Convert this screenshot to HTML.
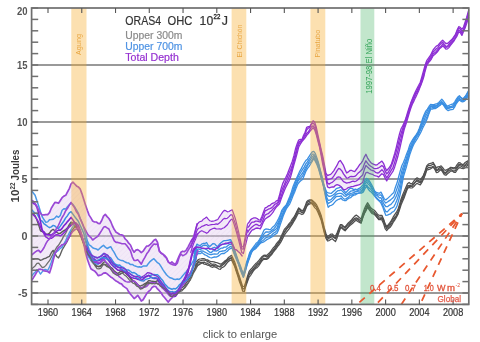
<!DOCTYPE html>
<html><head><meta charset="utf-8"><style>
html,body{margin:0;padding:0;background:#fff;width:480px;height:342px;overflow:hidden;}
svg{display:block;filter:blur(0.35px);font-family:"Liberation Sans",sans-serif;}
.cap{position:absolute;left:0;top:323px;width:480px;text-align:center;font-family:"Liberation Sans",sans-serif;font-size:11px;color:#555;}
</style></head><body>
<svg width="480" height="342" viewBox="0 0 480 342">
<line x1="31.6" y1="65.0" x2="468.8" y2="65.0" stroke="#777" stroke-width="1.3"/>
<line x1="31.6" y1="122.0" x2="468.8" y2="122.0" stroke="#777" stroke-width="1.3"/>
<line x1="31.6" y1="179.0" x2="468.8" y2="179.0" stroke="#777" stroke-width="1.3"/>
<line x1="31.6" y1="236.0" x2="468.8" y2="236.0" stroke="#777" stroke-width="1.3"/>
<line x1="31.6" y1="293.0" x2="468.8" y2="293.0" stroke="#777" stroke-width="1.3"/>
<defs><pattern id="hatch" width="3.5" height="3.5" patternUnits="userSpaceOnUse" patternTransform="rotate(45)"><rect width="4" height="4" fill="#e2cdee" fill-opacity="0.42"/><line x1="0" y1="0" x2="0" y2="4" stroke="#d4bfe6" stroke-opacity="0.35" stroke-width="0.8"/></pattern></defs>
<polygon points="31.5,200.5 36.0,204.2 38.2,210.0 41.9,214.5 45.5,213.7 48.5,215.2 52.1,207.2 55.0,202.0 58.7,203.5 61.6,197.7 65.3,195.5 68.2,191.0 71.9,182.3 74.8,183.8 77.0,186.0 79.2,186.7 82.0,194.7 85.0,204.2 88.8,215.0 92.5,221.6 96.3,222.5 100.0,223.5 104.7,214.0 108.5,217.8 112.2,225.3 116.9,233.8 122.5,234.7 125.0,239.3 130.0,244.4 133.8,251.9 137.6,249.4 141.4,252.5 146.4,246.9 150.2,244.4 155.2,238.0 157.7,241.8 159.0,250.6 162.7,254.4 166.5,258.2 169.0,263.2 172.8,262.0 175.3,265.7 179.0,255.7 181.6,251.3 185.4,251.0 190.6,242.5 193.5,238.0 197.4,223.7 202.5,220.7 206.6,216.6 210.7,221.7 217.8,219.7 224.0,209.4 228.0,212.5 232.0,209.4 235.2,218.6 239.3,235.0 242.7,250.0 242.7,256.0 239.3,252.0 235.0,250.0 231.0,242.0 225.7,244.0 219.9,245.5 214.0,250.6 208.2,247.7 202.3,249.1 196.5,247.0 192.7,250.0 186.9,278.9 181.3,286.4 175.7,293.9 171.9,297.6 168.2,302.3 164.4,297.6 158.8,290.0 155.0,285.0 151.3,288.3 147.5,292.0 144.7,297.6 141.9,301.4 138.1,295.8 134.4,299.5 130.6,293.9 126.9,288.3 121.3,284.5 117.0,282.0 112.7,278.6 108.1,273.9 103.4,272.7 98.7,277.4 95.2,271.6 90.5,269.0 86.0,255.0 82.5,237.5 78.8,228.0 75.0,230.0 71.3,232.8 65.6,243.2 62.0,245.0 58.2,247.5 54.4,255.0 51.9,266.4 49.4,272.7 46.9,271.4 43.0,270.0 39.3,269.0 35.5,274.0 31.5,281.0" fill="url(#hatch)" stroke="none"/>
<polygon points="242.7,250.0 247.5,223.4 251.8,218.3 256.2,217.5 260.6,220.5 265.0,207.3 269.4,205.8 273.8,202.9 278.2,200.0 281.8,186.0 287.7,173.0 292.1,163.0 296.3,146.0 299.5,138.4 301.6,140.5 304.7,133.2 306.8,126.8 310.0,125.8 312.6,120.5 314.7,122.6 316.3,127.9 318.4,137.4 320.5,146.0 322.8,156.7 326.4,175.7 331.6,174.2 336.0,167.0 339.6,159.6 343.3,165.5 347.0,173.4 350.7,170.5 354.4,172.0 358.0,167.5 362.4,161.7 366.0,154.4 370.0,162.6 376.3,165.8 382.6,160.5 386.8,171.0 391.0,164.7 395.3,151.0 398.4,138.2 401.0,128.7 403.7,123.4 406.8,115.0 410.0,104.4 413.8,95.0 417.5,87.5 420.3,82.8 423.2,72.5 426.0,61.3 430.7,55.6 433.3,50.0 438.3,45.0 442.5,40.0 446.7,45.0 451.7,40.0 455.0,35.0 459.2,25.0 462.5,30.8 465.8,20.0 468.7,10.0 468.7,17.0 465.8,26.0 462.0,36.0 459.2,31.0 455.0,40.0 451.7,44.0 446.7,49.0 442.5,46.0 438.0,51.0 433.3,56.0 426.0,67.0 423.2,80.0 417.5,93.0 410.0,110.0 406.8,121.0 404.0,130.0 401.0,143.0 397.4,158.4 393.2,171.0 386.8,180.5 382.6,173.0 378.4,177.4 370.0,173.0 365.3,172.0 363.0,182.5 357.0,185.5 351.2,187.0 344.0,189.9 338.0,184.0 333.7,187.0 327.8,188.4 323.0,166.0 320.0,150.0 317.4,139.5 315.3,131.0 313.2,127.9 311.0,130.0 306.8,135.3 302.6,140.5 298.4,147.0 296.0,158.0 290.0,179.0 284.0,192.0 279.6,203.0 275.2,208.8 269.4,216.0 265.0,219.0 260.6,228.5 256.2,227.8 251.8,230.7 247.5,236.5 242.7,256.0" fill="#e2cdee" fill-opacity="0.42" stroke="none"/>
<polyline points="194.7,263.8 196.3,261.6 197.9,260.0 199.5,259.0 201.1,258.8 202.7,258.5 204.3,258.7 205.9,259.5 207.5,259.9 209.1,260.9 210.7,261.5 212.3,261.5 213.9,261.8 215.5,262.4 217.1,262.7 218.7,263.4 220.3,264.1 221.9,263.5 223.5,262.3 225.1,260.7 226.7,259.8 228.3,257.5 229.9,256.6 231.5,255.3 233.1,258.5 234.7,262.0 236.3,266.9 237.9,272.3 239.5,276.7 241.1,281.7 242.7,286.7 244.3,286.4 245.9,281.6 247.5,276.1 249.1,271.5 250.7,269.4 252.3,267.7 253.9,265.6 255.5,263.8 257.1,262.5 258.7,260.8 260.3,258.6 261.9,256.7 263.5,255.4 265.1,255.1 266.7,255.5 268.3,253.9 269.9,252.4 271.5,250.4 273.1,248.0 274.7,246.5 276.3,243.9 277.9,241.9 279.5,240.2 281.1,236.4 282.7,233.1 284.3,229.4 285.9,227.7 287.5,225.9 289.1,223.7 290.7,221.8 292.3,219.2 293.9,217.2 295.5,214.2 297.1,211.0 298.7,207.9 300.3,209.3 301.9,210.7 303.5,209.9 305.1,206.2 306.7,201.8 308.3,200.3 309.9,199.9 311.5,199.8 313.1,201.1 314.7,202.5 316.3,204.3 317.9,207.6 319.5,210.9 321.1,215.1 322.7,221.4 324.3,228.0 325.9,233.4 327.5,236.9 329.1,235.4 330.7,234.2 332.3,234.0 333.9,235.6 335.5,236.0 337.1,232.8 338.7,228.6 340.3,224.7 341.9,224.6 343.5,226.2 345.1,227.0 346.7,224.9 348.3,222.9 349.9,221.5 351.5,220.0 353.1,217.9 354.7,216.1 356.3,215.1 357.9,216.3 359.5,217.8 361.1,218.9 362.7,213.7 364.3,209.1 365.9,205.6 367.5,202.7 369.1,205.1 370.7,207.8 372.3,209.1 373.9,210.0 375.5,211.5 377.1,213.7 378.7,215.1 380.3,215.4 381.9,215.3 383.5,218.9 385.1,223.9 386.7,226.4 388.3,224.6 389.9,222.7 391.5,220.4 393.1,217.2 394.7,214.6 396.3,212.5 397.9,209.6 399.5,204.4 401.1,198.9 402.7,194.8 404.3,191.1 405.9,187.3 407.5,183.7 409.1,182.5 410.7,183.7 412.3,183.3 413.9,181.0 415.5,179.1 417.1,177.8 418.7,178.8 420.3,179.5 421.9,177.7 423.5,175.3 425.1,170.9 426.7,165.9 428.3,164.2 429.9,163.6 431.5,163.2 433.1,162.4 434.7,165.0 436.3,167.8 437.9,166.9 439.5,166.7 441.1,165.8 442.7,167.6 444.3,169.9 445.9,170.3 447.5,169.2 449.1,168.5 450.7,167.3 452.3,167.5 453.9,167.9 455.5,167.3 457.1,164.6 458.7,162.7 460.3,162.9 461.9,164.4 463.5,164.3 465.1,162.5 466.7,161.5 468.3,160.5 468.7,160.2" fill="none" stroke="#505050" stroke-width="1.25" stroke-opacity="1.0" stroke-linejoin="round"/>
<polyline points="194.7,265.9 196.3,264.1 197.9,262.2 199.5,261.0 201.1,260.5 202.7,260.1 204.3,260.2 205.9,260.5 207.5,261.4 209.1,262.3 210.7,263.6 212.3,264.3 213.9,264.0 215.5,264.4 217.1,265.5 218.7,266.3 220.3,266.1 221.9,264.5 223.5,263.1 225.1,261.7 226.7,260.2 228.3,259.1 229.9,258.2 231.5,257.5 233.1,260.7 234.7,264.4 236.3,269.4 237.9,273.5 239.5,278.6 241.1,283.8 242.7,288.7 244.3,288.6 245.9,283.4 247.5,277.9 249.1,273.9 250.7,271.5 252.3,269.7 253.9,267.9 255.5,265.9 257.1,264.0 258.7,262.9 260.3,260.9 261.9,257.9 263.5,256.1 265.1,256.2 266.7,257.1 268.3,255.8 269.9,253.3 271.5,251.8 273.1,250.2 274.7,248.0 276.3,245.6 277.9,243.6 279.5,241.2 281.1,237.5 282.7,234.9 284.3,231.8 285.9,229.5 287.5,227.7 289.1,225.2 290.7,223.3 292.3,221.3 293.9,218.4 295.5,215.2 297.1,211.9 298.7,208.9 300.3,210.3 301.9,211.2 303.5,210.8 305.1,206.8 306.7,203.8 308.3,201.7 309.9,201.1 311.5,200.7 313.1,202.5 314.7,204.1 316.3,206.5 317.9,209.3 319.5,213.1 321.1,217.0 322.7,222.9 324.3,229.9 325.9,235.3 327.5,237.7 329.1,237.3 330.7,235.9 332.3,235.7 333.9,237.0 335.5,238.0 337.1,234.4 338.7,230.2 340.3,225.9 341.9,225.9 343.5,226.8 345.1,228.3 346.7,226.2 348.3,224.2 349.9,222.8 351.5,220.9 353.1,219.5 354.7,218.4 356.3,217.8 357.9,218.6 359.5,219.8 361.1,220.6 362.7,215.6 364.3,211.5 365.9,207.6 367.5,204.7 369.1,206.8 370.7,209.4 372.3,210.7 373.9,211.9 375.5,213.6 377.1,215.0 378.7,217.1 380.3,217.2 381.9,217.1 383.5,219.7 385.1,224.3 386.7,227.5 388.3,225.6 389.9,224.0 391.5,221.2 393.1,219.1 394.7,217.1 396.3,215.3 397.9,211.7 399.5,206.7 401.1,201.5 402.7,197.0 404.3,193.8 405.9,190.3 407.5,185.9 409.1,185.4 410.7,185.4 412.3,184.8 413.9,183.5 415.5,181.7 417.1,179.7 418.7,180.6 420.3,181.6 421.9,179.0 423.5,175.8 425.1,171.7 426.7,167.4 428.3,165.6 429.9,165.6 431.5,165.1 433.1,163.9 434.7,165.9 436.3,169.5 437.9,169.1 439.5,167.6 441.1,167.6 442.7,169.9 444.3,172.3 445.9,172.4 447.5,170.7 449.1,169.0 450.7,168.2 452.3,168.2 453.9,168.9 455.5,168.6 457.1,166.9 458.7,164.7 460.3,164.3 461.9,165.2 463.5,166.1 465.1,164.6 466.7,163.2 468.3,161.1 468.7,160.4" fill="none" stroke="#505050" stroke-width="1.25" stroke-opacity="1.0" stroke-linejoin="round"/>
<polyline points="194.7,267.3 196.3,265.1 197.9,262.7 199.5,262.9 201.1,262.3 202.7,262.3 204.3,262.1 205.9,263.2 207.5,263.2 209.1,264.6 210.7,265.3 212.3,265.2 213.9,265.4 215.5,265.8 217.1,266.1 218.7,266.5 220.3,267.1 221.9,265.8 223.5,264.4 225.1,263.1 226.7,261.4 228.3,260.1 229.9,258.8 231.5,258.0 233.1,262.0 234.7,265.5 236.3,270.4 237.9,274.9 239.5,279.7 241.1,284.2 242.7,289.0 244.3,288.7 245.9,284.5 247.5,279.7 249.1,274.9 250.7,272.9 252.3,271.3 253.9,268.6 255.5,267.4 257.1,265.6 258.7,264.0 260.3,262.3 261.9,259.6 263.5,258.2 265.1,258.6 266.7,259.2 268.3,257.1 269.9,255.5 271.5,253.5 273.1,251.4 274.7,249.2 276.3,247.0 277.9,244.5 279.5,242.4 281.1,238.9 282.7,236.1 284.3,232.7 285.9,230.4 287.5,228.0 289.1,226.6 290.7,224.8 292.3,222.6 293.9,219.9 295.5,216.7 297.1,213.5 298.7,210.7 300.3,211.5 301.9,212.7 303.5,212.2 305.1,209.2 306.7,205.9 308.3,203.7 309.9,202.6 311.5,202.7 313.1,203.6 314.7,205.4 316.3,206.8 317.9,210.1 319.5,214.2 321.1,218.3 322.7,224.6 324.3,231.6 325.9,236.7 327.5,239.5 329.1,238.2 330.7,237.3 332.3,236.7 333.9,237.5 335.5,238.7 337.1,235.4 338.7,231.5 340.3,227.3 341.9,227.4 343.5,228.9 345.1,230.3 346.7,228.6 348.3,226.3 349.9,224.1 351.5,222.8 353.1,220.8 354.7,219.8 356.3,218.9 357.9,219.5 359.5,221.3 361.1,222.5 362.7,217.5 364.3,213.3 365.9,209.7 367.5,206.0 369.1,208.3 370.7,210.4 372.3,212.1 373.9,213.3 375.5,214.9 377.1,216.8 378.7,219.1 380.3,218.7 381.9,218.4 383.5,221.3 385.1,225.8 386.7,228.6 388.3,227.2 389.9,225.5 391.5,223.5 393.1,220.9 394.7,218.6 396.3,216.5 397.9,213.7 399.5,208.2 401.1,202.3 402.7,198.9 404.3,195.3 405.9,191.4 407.5,187.5 409.1,186.6 410.7,186.4 412.3,186.4 413.9,184.2 415.5,182.0 417.1,180.7 418.7,182.2 420.3,182.8 421.9,180.8 423.5,178.3 425.1,173.9 426.7,168.9 428.3,167.7 429.9,167.5 431.5,167.2 433.1,166.3 434.7,168.3 436.3,170.9 437.9,170.1 439.5,169.1 441.1,168.8 442.7,170.7 444.3,173.1 445.9,173.4 447.5,171.8 449.1,170.5 450.7,169.7 452.3,170.2 453.9,171.3 455.5,170.4 457.1,168.1 458.7,165.7 460.3,165.8 461.9,166.7 463.5,167.6 465.1,165.7 466.7,164.8 468.3,163.6 468.7,162.4" fill="none" stroke="#505050" stroke-width="1.25" stroke-opacity="1.0" stroke-linejoin="round"/>
<polyline points="194.7,268.6 196.3,267.0 197.9,265.4 199.5,264.4 201.1,263.5 202.7,263.0 204.3,264.2 205.9,264.3 207.5,265.1 209.1,265.5 210.7,266.6 212.3,267.3 213.9,266.7 215.5,267.2 217.1,267.8 218.7,269.0 220.3,269.3 221.9,267.6 223.5,267.0 225.1,265.5 226.7,263.4 228.3,261.6 229.9,260.5 231.5,259.8 233.1,263.2 234.7,266.6 236.3,271.5 237.9,276.4 239.5,281.8 241.1,285.9 242.7,291.2 244.3,291.5 245.9,286.0 247.5,281.6 249.1,277.2 250.7,275.3 252.3,272.6 253.9,270.2 255.5,268.5 257.1,267.6 258.7,265.8 260.3,263.4 261.9,261.0 263.5,259.4 265.1,259.2 266.7,259.3 268.3,258.5 269.9,256.3 271.5,254.9 273.1,252.5 274.7,250.3 276.3,248.5 277.9,246.2 279.5,244.3 281.1,241.6 282.7,238.4 284.3,235.2 285.9,232.9 287.5,230.9 289.1,228.9 290.7,226.4 292.3,224.2 293.9,221.3 295.5,218.7 297.1,215.4 298.7,212.7 300.3,213.8 301.9,214.5 303.5,213.6 305.1,210.6 306.7,206.4 308.3,204.6 309.9,204.0 311.5,203.4 313.1,205.2 314.7,207.6 316.3,209.0 317.9,212.2 319.5,215.9 321.1,219.9 322.7,226.4 324.3,232.9 325.9,238.3 327.5,241.0 329.1,240.6 330.7,239.4 332.3,238.7 333.9,240.3 335.5,241.6 337.1,237.9 338.7,233.0 340.3,228.5 341.9,228.0 343.5,229.7 345.1,230.8 346.7,228.9 348.3,227.1 349.9,225.5 351.5,224.2 353.1,222.9 354.7,221.2 356.3,220.2 357.9,221.5 359.5,222.5 361.1,223.3 362.7,218.0 364.3,213.8 365.9,210.9 367.5,207.4 369.1,209.7 370.7,212.0 372.3,213.7 373.9,214.2 375.5,215.5 377.1,217.5 378.7,219.7 380.3,219.5 381.9,219.9 383.5,223.4 385.1,228.6 386.7,230.6 388.3,228.7 389.9,227.6 391.5,225.4 393.1,222.5 394.7,220.1 396.3,217.4 397.9,214.5 399.5,209.9 401.1,204.8 402.7,201.0 404.3,197.4 405.9,192.9 407.5,188.5 409.1,187.4 410.7,188.0 412.3,187.9 413.9,186.5 415.5,184.6 417.1,183.2 418.7,184.2 420.3,184.9 421.9,182.4 423.5,178.9 425.1,175.3 426.7,170.2 428.3,169.6 429.9,169.2 431.5,168.3 433.1,167.1 434.7,169.0 436.3,172.6 437.9,172.4 439.5,170.8 441.1,169.7 442.7,172.2 444.3,174.6 445.9,175.3 447.5,173.7 449.1,172.6 450.7,170.8 452.3,171.1 453.9,172.3 455.5,172.4 457.1,170.0 458.7,167.8 460.3,167.7 461.9,168.5 463.5,168.6 465.1,167.8 466.7,166.4 468.3,164.5 468.7,163.6" fill="none" stroke="#505050" stroke-width="1.25" stroke-opacity="1.0" stroke-linejoin="round"/>
<polyline points="31.5,259.0 33.3,259.2 35.1,258.9 36.9,258.6 38.7,259.2 40.5,260.3 42.3,259.7 44.1,258.6 45.9,258.2 47.7,257.2 49.5,256.4 51.3,252.7 53.1,250.4 54.9,253.7 56.7,256.5 58.5,257.9 60.3,254.6 62.1,250.0 63.9,247.0 65.7,244.0 67.5,240.8 69.3,236.9 71.1,232.0 72.9,229.4 74.7,226.8 76.5,225.8 78.3,229.6 80.1,233.9 81.9,239.2 83.7,244.5 85.5,248.4 87.3,252.4 89.1,255.7 90.9,260.3 92.7,262.5 94.5,264.2 96.3,266.2 98.1,266.7 99.9,266.3 101.7,265.3 103.5,264.0 105.3,265.1 107.1,266.7 108.9,267.4 110.7,268.5 112.5,270.9 114.3,272.4 116.1,273.0 117.9,275.0 119.7,274.1 121.5,273.3 123.3,272.4 125.1,271.5 126.9,273.2 128.7,275.5 130.5,277.7 132.3,280.7 134.1,281.6 135.9,284.0 137.7,284.9 139.5,286.4 141.3,288.1 143.1,287.1 144.9,285.4 146.7,283.4 148.5,282.7 150.3,282.7 152.1,283.5 153.9,282.8 155.7,282.7 157.5,283.8 159.3,284.2 161.1,285.8 162.9,287.7 164.7,289.3 166.5,290.3 168.3,292.0 170.1,294.0 171.9,295.9 173.7,294.7 175.5,294.4 177.3,293.7 179.1,291.7 180.9,290.0 182.7,289.5 184.5,287.7 186.3,284.9 188.1,283.0 189.9,280.2 191.7,277.1 193.5,272.8 195.3,269.8 197.1,266.5 198.0,264.4" fill="none" stroke="#606060" stroke-width="1.4" stroke-opacity="1.0" stroke-linejoin="round"/>
<polyline points="31.5,213.6 33.3,214.1 35.1,215.7 36.9,220.1 38.7,225.1 40.5,230.8 42.3,231.7 44.1,232.7 45.9,234.2 47.7,234.3 49.5,233.1 51.3,230.5 53.1,229.4 54.9,230.8 56.7,232.2 58.5,233.5 60.3,233.4 62.1,231.9 63.9,230.7 65.7,229.6 67.5,227.8 69.3,224.7 71.1,222.1 72.9,224.3 74.7,225.7 76.5,228.1 78.3,230.8 80.1,234.5 81.9,238.2 83.7,243.3 85.5,247.7 87.3,251.5 89.1,253.6 90.9,256.0 92.7,258.8 94.5,262.4 96.3,266.0 98.1,266.4 99.9,266.5 101.7,264.4 103.5,262.4 105.3,261.7 107.1,263.2 108.9,265.1 110.7,267.2 112.5,268.6 114.3,271.1 116.1,272.4 117.9,273.6 119.7,272.0 121.5,271.1 123.3,271.2 125.1,272.8 126.9,274.4 128.7,275.9 130.5,278.6 132.3,280.1 134.1,281.2 135.9,282.5 137.7,284.8 139.5,285.9 141.3,285.7 143.1,284.9 144.9,283.6 146.7,282.7 148.5,280.7 150.3,280.8 152.1,281.3 153.9,281.5 155.7,281.7 157.5,280.7 159.3,281.9 161.1,283.0 162.9,284.3 164.7,286.7 166.5,288.9 168.3,291.8 170.1,293.6 171.9,294.0 173.7,293.0 175.5,291.9 177.3,291.3 179.1,290.5 180.9,288.2 182.7,287.2 184.5,285.5 186.3,282.7 188.1,280.4 189.9,277.8 191.7,274.8 193.5,271.1 195.3,267.7 197.1,264.2 198.5,260.7" fill="none" stroke="#5a5a5a" stroke-width="1.4" stroke-opacity="1.0" stroke-linejoin="round"/>
<polyline points="31.5,269.3 33.3,267.4 35.1,265.9 36.9,263.4 38.7,263.1 40.5,265.4 42.3,267.7 44.1,267.1 45.9,265.4 47.7,262.9 49.5,260.7 51.3,257.3 53.1,253.8 54.9,250.3 56.7,247.3 58.5,245.3 60.3,242.4 62.1,239.4 63.9,235.8 65.7,233.1 67.5,229.4 69.3,226.5 71.1,222.7 72.9,222.4 74.7,226.2 75.0,227.2" fill="none" stroke="#707070" stroke-width="1.3" stroke-opacity="1.0" stroke-linejoin="round"/>
<polyline points="31.5,276.3 33.3,273.8 35.1,272.2 36.9,269.7 38.7,271.2 40.5,274.1 42.3,271.7 44.1,269.8 45.9,269.5 47.7,270.5 49.5,266.9 51.3,262.3 53.1,256.9 54.9,253.0 56.7,251.6 58.5,250.4 60.3,248.3 62.1,247.4 63.9,243.8 65.7,240.5 67.5,236.5 69.3,232.9 71.1,229.6 72.9,226.7 74.7,223.4 76.5,222.9 78.3,227.0 80.1,231.2 81.9,236.5 83.7,242.4 85.5,248.9 87.3,254.7 89.1,258.0 90.9,259.8 92.7,262.6 94.5,262.8 96.3,264.0 98.1,264.3 99.9,262.7 101.7,260.1 103.5,258.8 105.3,258.4 107.1,259.3 108.9,260.8 110.7,262.2 112.5,262.9 114.3,264.1 116.1,265.7 117.9,266.7 119.7,267.3 121.0,267.4" fill="none" stroke="#4f9be6" stroke-width="1.4" stroke-opacity="1.0" stroke-linejoin="round"/>
<polyline points="31.5,209.6 33.3,211.5 35.1,213.2 36.9,213.6 38.7,216.8 40.5,220.2 42.3,221.3 44.1,223.9 45.9,225.0 47.7,226.5 49.5,227.7 51.3,226.8 53.1,225.4 54.9,226.0 56.7,227.7 58.5,228.5 60.3,226.1 62.1,223.5 63.9,221.0 65.7,217.9 67.5,215.7 69.3,212.8 71.1,211.7 72.9,214.1 74.7,216.6 76.5,219.0 78.3,221.3 80.1,225.3 81.9,229.1 83.7,233.2 85.5,238.9 87.3,244.6 89.1,249.6 90.9,253.4 92.7,256.4 94.5,257.6 96.3,257.2 98.1,257.7 99.9,256.8 101.7,255.3 103.5,253.5 105.3,254.6 107.1,255.3 108.9,256.8 110.7,257.9 112.5,260.7 114.3,263.3 116.1,264.5 117.9,265.2 119.7,265.1 121.5,266.7 123.3,267.4 125.1,268.9 126.9,270.1 128.7,270.1 130.5,271.5 132.3,272.8 134.1,272.6 135.9,273.6 137.7,275.3 139.5,275.8 141.3,277.7 143.1,277.6 144.9,277.4 146.7,275.9 148.5,275.4 150.3,275.5 152.1,274.8 153.9,274.6 155.7,274.8 157.5,274.8 159.3,276.5 161.1,278.7 162.9,280.8 164.7,284.1 166.5,285.8 168.3,287.7 170.1,288.5 171.9,289.3 173.7,288.6 175.5,288.9 177.3,287.6 179.1,285.2 180.9,283.7 182.7,281.3 184.5,279.2 186.3,277.7 188.1,274.8 189.9,273.8 191.7,270.1 193.5,263.8 195.3,258.4 196.5,253.8" fill="none" stroke="#3b8fe2" stroke-width="1.5" stroke-opacity="1.0" stroke-linejoin="round"/>
<polyline points="31.5,190.7 33.3,193.0 35.1,195.2 36.9,200.7 38.7,206.0 40.5,211.7 42.3,216.9 44.1,219.8 45.9,222.4 47.7,221.9 49.5,219.7 51.3,219.6 53.1,219.3 54.9,218.0 56.7,216.1 58.5,217.3 60.3,215.4 62.1,210.3 63.9,208.7 65.7,209.1 67.5,206.7 69.3,204.7 71.1,203.1 72.9,204.3 74.7,207.0 76.5,209.8 78.3,213.1 80.1,217.9 81.9,222.5 83.7,227.6 85.5,233.6 87.3,240.9 89.1,244.9 90.9,245.9 92.7,247.8 94.5,248.6 96.3,248.9 98.1,250.0 99.9,248.2 101.7,246.6 103.5,245.3 105.3,247.1 107.1,248.5 108.9,247.5 110.7,246.7 112.5,249.8 114.3,252.7 116.1,256.1 117.9,258.9 119.7,259.9 121.5,260.6 123.3,260.8 125.1,262.0 126.9,262.8 128.7,263.1 130.5,264.6 132.3,264.4 134.1,265.6 135.9,266.3 137.7,266.9 139.5,266.8 141.3,267.2 143.1,266.1 144.9,266.1 146.7,266.0 148.5,263.4 150.3,261.3 152.1,259.9 153.9,258.7 155.7,260.7 157.5,262.7 159.3,263.8 161.1,266.7 162.9,269.6 164.7,272.3 166.5,274.8 168.3,276.5 170.1,277.8 171.9,278.2 173.7,279.3 175.5,279.5 177.3,279.1 179.1,279.4 180.9,278.0 182.7,275.8 184.5,273.6 186.3,271.8 188.1,269.2 189.9,266.2 191.7,263.7 193.5,260.7 195.3,255.7 197.0,245.5" fill="none" stroke="#4a98e6" stroke-width="1.5" stroke-opacity="1.0" stroke-linejoin="round"/>
<polyline points="193.8,253.7 195.4,248.0 197.0,244.1 198.6,245.2 200.2,245.6 201.8,244.0 203.4,243.3 205.0,243.5 206.6,242.5 208.2,245.3 209.8,246.5 211.4,245.0 213.0,243.6 214.6,243.8 216.2,245.6 217.8,246.6 219.4,244.2 221.0,242.7 222.6,241.4 224.2,240.6 225.8,240.7 227.4,240.3 229.0,240.0 230.6,239.6 232.2,242.5 233.8,247.0 235.4,252.2 237.0,256.9 238.6,261.4 240.2,265.3 241.8,269.8 243.4,274.0 245.0,268.3 246.6,262.1 248.2,257.5 249.8,252.3 251.4,249.9 253.0,247.6 254.6,245.5 256.2,243.2 257.8,242.0 259.4,239.5 261.0,236.7 262.6,233.2 264.2,229.8 265.8,229.0 267.4,229.2 269.0,229.5 270.6,229.6 272.2,227.6 273.8,226.3 275.4,224.3 277.0,221.6 278.6,218.6 280.2,215.1 281.8,210.3 283.4,208.0 285.0,206.2 286.6,204.3 288.2,200.2 289.8,196.4 291.4,191.9 293.0,186.8 294.6,182.7 296.2,179.1 297.8,175.4 299.4,171.9 301.0,169.1 302.6,166.0 304.2,163.0 305.8,160.6 307.4,159.2 309.0,156.6 310.6,154.1 312.2,151.8 313.8,151.3 315.4,153.6 317.0,158.1 318.6,163.3 320.2,169.6 321.8,175.9 323.4,183.2 325.0,188.1 326.6,192.0 328.2,192.9 329.8,193.2 331.4,193.3 333.0,191.8 334.6,190.6 336.2,188.7 337.8,188.2 339.4,187.7 341.0,186.7 342.6,189.4 344.2,190.9 345.8,192.7 347.4,191.0 349.0,189.3 350.6,188.1 352.2,188.6 353.8,189.6 355.4,189.2 357.0,189.7 358.6,188.6 360.2,187.9 361.8,186.2 363.4,184.3 365.0,179.7 366.6,178.4 368.2,179.5 369.8,181.7 371.4,184.4 373.0,187.3 374.6,191.0 376.2,192.3 377.8,192.8 379.4,193.3 381.0,192.1 382.6,195.3 384.2,198.7 385.8,199.9 387.4,198.6 389.0,197.1 390.6,195.6 392.2,193.9 393.8,192.6 395.4,187.2 397.0,183.1 398.6,177.0 400.2,171.2 401.8,165.7 403.4,162.5 405.0,158.4 406.6,154.0 408.2,150.0 409.8,144.9 411.4,141.9 413.0,139.2 414.6,136.8 416.2,134.6 417.8,132.1 419.4,128.2 421.0,123.8 422.6,118.6 424.2,114.5 425.8,111.1 427.4,109.2 429.0,106.5 430.6,104.4 432.2,104.6 433.8,104.6 435.4,104.1 437.0,103.6 438.6,102.8 440.2,101.0 441.8,99.3 443.4,101.0 445.0,103.4 446.6,105.7 448.2,105.9 449.8,105.0 451.4,104.4 453.0,104.0 454.6,102.1 456.2,99.4 457.8,97.0 459.4,95.8 461.0,97.6 462.6,98.7 464.2,97.5 465.8,95.8 467.4,92.7 468.7,90.7" fill="none" stroke="#3b8fe2" stroke-width="1.3" stroke-opacity="1.0" stroke-linejoin="round"/>
<polyline points="193.8,256.6 195.4,251.0 197.0,247.3 198.6,247.3 200.2,247.1 201.8,246.4 203.4,245.3 205.0,245.2 206.6,245.4 208.2,247.0 209.8,249.1 211.4,248.8 213.0,247.9 214.6,247.3 216.2,248.2 217.8,248.5 219.4,246.3 221.0,245.0 222.6,244.3 224.2,244.2 225.8,244.1 227.4,243.0 229.0,242.3 230.6,241.8 232.2,243.6 233.8,248.0 235.4,253.1 237.0,258.1 238.6,262.5 240.2,266.7 241.8,271.1 243.4,275.3 245.0,269.9 246.6,263.7 248.2,258.4 249.8,254.1 251.4,250.1 253.0,248.4 254.6,247.2 256.2,245.4 257.8,243.3 259.4,240.9 261.0,238.7 262.6,236.0 264.2,233.6 265.8,232.0 267.4,232.0 269.0,232.2 270.6,231.2 272.2,230.1 273.8,228.9 275.4,227.0 277.0,224.4 278.6,221.6 280.2,216.7 281.8,212.8 283.4,209.2 285.0,207.1 286.6,205.2 288.2,201.9 289.8,198.0 291.4,194.3 293.0,189.8 294.6,185.3 296.2,181.1 297.8,177.4 299.4,174.5 301.0,172.0 302.6,169.4 304.2,167.1 305.8,163.9 307.4,161.9 309.0,159.4 310.6,157.4 312.2,154.2 313.8,154.1 315.4,156.1 317.0,159.8 318.6,164.2 320.2,170.5 321.8,176.3 323.4,183.1 325.0,189.0 326.6,194.0 328.2,196.0 329.8,196.3 331.4,195.9 333.0,195.0 334.6,193.9 336.2,192.0 337.8,190.7 339.4,190.7 341.0,189.9 342.6,191.4 344.2,193.0 345.8,194.7 347.4,193.8 349.0,192.6 350.6,191.2 352.2,190.8 353.8,190.5 355.4,191.3 357.0,191.0 358.6,190.2 360.2,189.5 361.8,188.7 363.4,186.5 365.0,181.9 366.6,180.3 368.2,181.5 369.8,183.8 371.4,186.4 373.0,189.8 374.6,192.2 376.2,193.6 377.8,194.6 379.4,195.2 381.0,194.8 382.6,197.4 384.2,201.4 385.8,203.0 387.4,202.0 389.0,200.9 390.6,199.9 392.2,198.4 393.8,197.0 395.4,193.0 397.0,188.5 398.6,183.7 400.2,178.0 401.8,170.9 403.4,166.2 405.0,162.1 406.6,157.6 408.2,152.1 409.8,147.9 411.4,144.5 413.0,140.5 414.6,137.2 416.2,135.6 417.8,133.3 419.4,129.5 421.0,125.2 422.6,120.7 424.2,116.4 425.8,113.5 427.4,110.7 429.0,107.8 430.6,105.9 432.2,106.0 433.8,105.3 435.4,105.8 437.0,105.2 438.6,104.0 440.2,102.6 441.8,101.6 443.4,103.2 445.0,105.1 446.6,106.2 448.2,107.2 449.8,106.7 451.4,106.4 453.0,105.6 454.6,103.8 456.2,101.2 457.8,98.4 459.4,97.0 461.0,97.7 462.6,98.9 464.2,98.0 465.8,95.9 467.4,93.3 468.7,91.7" fill="none" stroke="#3b8fe2" stroke-width="1.3" stroke-opacity="1.0" stroke-linejoin="round"/>
<polyline points="193.8,258.0 195.4,252.8 197.0,249.6 198.6,248.9 200.2,249.6 201.8,248.6 203.4,248.5 205.0,249.0 206.6,249.6 208.2,250.9 209.8,252.3 211.4,252.5 213.0,250.8 214.6,250.7 216.2,251.1 217.8,250.4 219.4,249.2 221.0,248.2 222.6,248.1 224.2,247.1 225.8,247.2 227.4,245.9 229.0,244.7 230.6,244.1 232.2,244.9 233.8,249.9 235.4,254.6 237.0,258.7 238.6,263.4 240.2,267.3 241.8,271.5 243.4,275.8 245.0,270.8 246.6,264.3 248.2,259.5 249.8,254.9 251.4,251.3 253.0,249.8 254.6,247.8 256.2,246.4 257.8,244.2 259.4,242.4 261.0,240.2 262.6,238.2 264.2,236.8 265.8,235.4 267.4,235.1 269.0,234.0 270.6,233.1 272.2,231.7 273.8,230.6 275.4,229.6 277.0,227.9 278.6,223.6 280.2,219.7 281.8,215.8 283.4,212.0 285.0,208.1 286.6,205.5 288.2,202.2 289.8,199.2 291.4,196.2 293.0,192.1 294.6,187.7 296.2,183.7 297.8,180.0 299.4,177.2 301.0,175.2 302.6,173.0 304.2,170.0 305.8,167.0 307.4,164.5 309.0,161.7 310.6,159.7 312.2,156.9 313.8,155.6 315.4,157.5 317.0,161.4 318.6,165.4 320.2,172.0 321.8,178.4 323.4,184.8 325.0,190.9 326.6,196.9 328.2,200.4 329.8,200.2 331.4,199.2 333.0,197.5 334.6,196.0 336.2,194.3 337.8,193.6 339.4,193.4 341.0,193.3 342.6,194.1 344.2,195.9 345.8,196.3 347.4,194.9 349.0,194.4 350.6,193.3 352.2,193.2 353.8,192.7 355.4,191.8 357.0,191.7 358.6,191.2 360.2,191.0 361.8,190.6 363.4,188.5 365.0,184.2 366.6,182.0 368.2,184.1 369.8,185.6 371.4,188.0 373.0,190.2 374.6,192.7 376.2,195.0 377.8,196.1 379.4,197.9 381.0,197.7 382.6,201.5 384.2,204.5 385.8,206.5 387.4,206.7 389.0,205.4 390.6,204.7 392.2,202.9 393.8,201.0 395.4,198.0 397.0,194.6 398.6,189.5 400.2,183.4 401.8,175.6 403.4,169.6 405.0,164.9 406.6,159.9 408.2,155.5 409.8,150.0 411.4,146.8 413.0,143.2 414.6,139.1 416.2,136.1 417.8,134.2 419.4,131.5 421.0,127.3 422.6,123.3 424.2,119.9 425.8,115.8 427.4,113.3 429.0,110.1 430.6,106.4 432.2,106.2 433.8,106.5 435.4,106.4 437.0,106.0 438.6,104.2 440.2,103.4 441.8,101.9 443.4,103.7 445.0,105.6 446.6,107.2 448.2,107.8 449.8,107.7 451.4,107.7 453.0,107.2 454.6,104.8 456.2,101.9 457.8,99.0 459.4,98.6 461.0,99.6 462.6,100.7 464.2,99.7 465.8,97.4 467.4,95.6 468.7,93.7" fill="none" stroke="#3b8fe2" stroke-width="1.3" stroke-opacity="1.0" stroke-linejoin="round"/>
<polyline points="193.8,260.1 195.4,254.9 197.0,251.4 198.6,251.9 200.2,251.4 201.8,251.0 203.4,251.2 205.0,252.2 206.6,253.0 208.2,253.8 209.8,254.5 211.4,254.7 213.0,254.1 214.6,254.0 216.2,254.1 217.8,253.9 219.4,251.7 221.0,251.3 222.6,251.0 224.2,250.8 225.8,250.1 227.4,248.3 229.0,247.5 230.6,246.3 232.2,247.4 233.8,252.0 235.4,255.9 237.0,259.7 238.6,264.1 240.2,268.7 241.8,272.4 243.4,276.9 245.0,272.0 246.6,265.5 248.2,260.8 249.8,256.5 251.4,252.3 253.0,249.8 254.6,248.2 256.2,247.1 257.8,245.7 259.4,243.8 261.0,241.6 262.6,240.7 264.2,239.4 265.8,237.8 267.4,237.2 269.0,236.8 270.6,236.1 272.2,234.5 273.8,233.0 275.4,232.1 277.0,230.4 278.6,226.4 280.2,221.6 281.8,217.6 283.4,213.6 285.0,210.0 286.6,207.0 288.2,204.3 289.8,201.1 291.4,197.1 293.0,194.2 294.6,189.7 296.2,185.0 297.8,181.3 299.4,179.6 301.0,177.6 302.6,176.0 304.2,172.4 305.8,169.2 307.4,165.9 309.0,163.5 310.6,162.3 312.2,159.9 313.8,157.2 315.4,159.8 317.0,163.3 318.6,167.9 320.2,173.3 321.8,179.4 323.4,185.7 325.0,193.0 326.6,199.9 328.2,203.6 329.8,202.5 331.4,201.6 333.0,200.1 334.6,198.3 336.2,196.5 337.8,196.3 339.4,196.4 341.0,195.8 342.6,197.6 344.2,199.1 345.8,198.9 347.4,197.9 349.0,196.5 350.6,194.9 352.2,195.0 353.8,194.0 355.4,193.6 357.0,193.3 358.6,193.2 360.2,192.5 361.8,191.5 363.4,190.0 365.0,185.8 366.6,185.0 368.2,187.2 369.8,188.4 371.4,190.1 373.0,192.3 374.6,194.7 376.2,197.1 377.8,199.0 379.4,200.4 381.0,200.6 382.6,204.5 384.2,208.3 385.8,211.5 387.4,211.8 389.0,209.9 390.6,208.5 392.2,207.9 393.8,207.0 395.4,203.8 397.0,200.1 398.6,194.9 400.2,188.7 401.8,180.3 403.4,172.9 405.0,167.3 406.6,162.0 408.2,157.2 409.8,151.8 411.4,147.8 413.0,143.7 414.6,140.7 416.2,137.6 417.8,135.6 419.4,132.3 421.0,128.7 422.6,126.1 424.2,122.3 425.8,119.2 427.4,115.9 429.0,112.4 430.6,108.0 432.2,107.7 433.8,107.1 435.4,107.8 437.0,107.4 438.6,106.0 440.2,104.5 441.8,102.9 443.4,104.9 445.0,106.5 446.6,108.3 448.2,108.6 449.8,107.9 451.4,107.2 453.0,107.4 454.6,105.4 456.2,102.5 457.8,100.7 459.4,99.2 461.0,100.0 462.6,100.6 464.2,100.0 465.8,98.4 467.4,95.8 468.7,93.5" fill="none" stroke="#3b8fe2" stroke-width="1.3" stroke-opacity="1.0" stroke-linejoin="round"/>
<polyline points="193.8,262.0 195.4,257.2 197.0,254.5 198.6,253.4 200.2,253.7 201.8,252.6 203.4,253.8 205.0,254.9 206.6,255.5 208.2,256.6 209.8,257.5 211.4,258.0 213.0,257.4 214.6,257.0 216.2,257.1 217.8,256.4 219.4,255.4 221.0,253.9 222.6,253.3 224.2,253.5 225.8,252.3 227.4,251.2 229.0,249.4 230.6,248.5 232.2,248.2 233.8,253.0 235.4,257.0 237.0,260.8 238.6,264.6 240.2,269.5 241.8,273.7 243.4,277.4 245.0,272.2 246.6,266.8 248.2,261.6 249.8,257.4 251.4,252.7 253.0,250.3 254.6,249.4 256.2,248.2 257.8,246.2 259.4,244.4 261.0,242.9 262.6,242.4 264.2,241.6 265.8,240.4 267.4,239.3 269.0,238.5 270.6,237.6 272.2,236.7 273.8,235.3 275.4,234.2 277.0,233.1 278.6,229.8 280.2,224.7 281.8,220.3 283.4,215.4 285.0,211.7 286.6,208.3 288.2,206.1 289.8,203.8 291.4,200.0 293.0,195.7 294.6,192.3 296.2,187.9 297.8,184.0 299.4,182.0 301.0,180.5 302.6,179.5 304.2,175.6 305.8,171.5 307.4,168.6 309.0,166.7 310.6,164.0 312.2,161.5 313.8,158.4 315.4,161.4 317.0,164.7 318.6,169.1 320.2,174.8 321.8,180.3 323.4,186.0 325.0,194.0 326.6,201.6 328.2,207.4 329.8,205.7 331.4,205.3 333.0,204.4 334.6,202.4 336.2,200.6 337.8,199.7 339.4,199.2 341.0,198.1 342.6,200.0 344.2,200.5 345.8,200.7 347.4,199.3 349.0,198.2 350.6,197.7 352.2,196.1 353.8,195.1 355.4,194.9 357.0,193.8 358.6,193.0 360.2,193.2 361.8,193.0 363.4,191.9 365.0,188.5 366.6,186.4 368.2,189.0 369.8,191.1 371.4,192.3 373.0,194.0 374.6,196.2 376.2,198.2 377.8,199.7 379.4,201.2 381.0,203.2 382.6,206.6 384.2,210.9 385.8,215.4 387.4,215.1 389.0,214.4 390.6,213.8 392.2,212.1 393.8,211.5 395.4,209.2 397.0,206.0 398.6,200.6 400.2,194.3 401.8,185.7 403.4,176.9 405.0,171.5 406.6,166.2 408.2,160.3 409.8,154.6 411.4,150.1 413.0,146.0 414.6,142.8 416.2,140.3 417.8,137.8 419.4,134.9 421.0,132.0 422.6,128.2 424.2,125.3 425.8,122.0 427.4,118.2 429.0,113.4 430.6,109.2 432.2,109.0 433.8,108.6 435.4,108.6 437.0,107.4 438.6,106.3 440.2,105.2 441.8,103.4 443.4,104.8 445.0,107.5 446.6,109.5 448.2,110.6 449.8,109.9 451.4,109.6 453.0,109.3 454.6,107.2 456.2,103.8 457.8,101.6 459.4,100.1 461.0,101.3 462.6,101.8 464.2,101.4 465.8,99.7 467.4,97.3 468.7,94.9" fill="none" stroke="#3b8fe2" stroke-width="1.3" stroke-opacity="1.0" stroke-linejoin="round"/>
<polyline points="31.5,213.8 33.3,214.9 35.1,216.7 36.9,219.1 38.7,222.5 40.5,226.9 42.3,230.6 44.1,234.0 45.9,237.0 47.7,238.2 49.5,238.4 51.3,238.3 53.1,237.1 54.9,235.3 56.7,234.7 58.5,235.1 60.3,235.8 62.1,234.7 63.9,232.8 65.7,230.9 67.5,228.4 69.3,226.8 71.1,225.3 72.9,223.9 74.7,222.4 76.5,223.8 78.3,225.0 80.1,230.0 81.9,236.2 83.7,242.2 85.5,247.7 87.3,252.9 89.1,256.0 90.9,257.9 92.7,259.9 94.5,262.0 96.3,262.5 98.1,263.4 99.9,263.3 101.7,261.4 103.5,259.9 104.0,258.8" fill="none" stroke="#8a2ad4" stroke-width="1.5" stroke-opacity="1.0" stroke-linejoin="round"/>
<polyline points="31.5,201.8 33.3,203.2 35.1,204.3 36.9,207.0 38.7,213.5 40.5,221.6 42.3,230.6 44.1,231.9 45.9,234.4 47.7,234.8 49.5,234.9 51.3,235.1 53.1,233.7 54.9,233.0 56.7,231.1 58.5,230.1 60.3,230.1 62.1,228.4 63.9,225.8 65.7,223.9 67.5,221.6 69.3,219.6 71.1,217.4 72.9,219.9 74.7,222.7 76.5,225.8 78.3,229.6 80.1,233.3 81.9,237.8 83.7,242.2 85.5,247.2 87.3,251.3 89.1,255.2 90.9,256.7 92.7,258.7 94.5,259.1 96.3,261.1 98.1,260.7 99.9,260.0 101.7,258.8 103.5,256.7 105.3,255.9 107.1,258.1 108.9,260.7 110.7,263.5 112.5,265.5 114.3,267.2 116.1,268.6 117.9,270.2 119.7,270.1 121.5,269.8 123.3,270.9 125.1,272.1 126.9,273.4 128.7,275.4 130.5,277.1 132.3,277.7 134.1,278.2 135.9,278.5 137.7,279.2 139.5,279.8 141.3,280.2 143.1,279.1 144.9,277.1 146.7,276.6 148.5,275.4 150.3,276.6 152.1,277.6 153.9,278.5 155.7,278.3 157.5,279.0 159.3,282.4 161.1,284.1 162.9,286.4 164.7,289.7 166.5,291.7 168.3,294.1 170.1,296.0 171.9,296.1 173.7,296.6 175.5,296.2 177.3,293.7 179.1,290.8 180.9,287.3 182.7,284.0 184.5,280.6 186.3,275.9 188.1,272.1 189.9,264.4 191.7,256.5 193.5,250.5 195.3,248.2 196.5,246.7" fill="none" stroke="#7d22d2" stroke-width="1.6" stroke-opacity="1.0" stroke-linejoin="round"/>
<polyline points="88.1,252.6 89.9,255.0 91.7,257.8 93.5,260.5 95.3,261.4 97.1,262.4 98.9,262.6 100.7,262.0 102.5,260.1 104.3,259.5 106.1,262.5 107.9,264.3 109.7,266.8 111.5,269.6 113.3,271.6 115.1,273.0 116.9,274.1 118.7,276.3 120.5,277.6 122.3,279.0 124.1,280.5 125.9,281.6 127.7,282.1 129.5,282.0 131.3,281.4 133.1,281.1 134.9,281.4 136.7,283.4 138.5,285.7 140.3,288.1 142.1,287.7 143.9,286.8 145.7,287.0 147.5,285.6 149.3,283.5 151.1,282.4 152.9,283.0 154.7,282.7 156.5,283.2 158.3,283.5 160.1,285.2 161.9,287.6 163.7,289.2 165.5,291.0 167.3,292.3 169.1,294.4 170.9,296.0 172.7,295.3 174.5,295.4 176.0,295.1" fill="none" stroke="#9a48d6" stroke-width="1.5" stroke-opacity="1.0" stroke-linejoin="round"/>
<polyline points="188.0,270.7 189.8,262.7 191.6,254.7 193.4,248.9 195.2,247.3 197.0,247.3 198.8,247.3 200.6,247.7 202.4,248.3 204.2,248.4 206.0,248.6 207.8,248.1 209.6,248.9 211.4,248.9 213.2,249.4 215.0,249.8 216.8,247.9 218.6,246.8 220.4,245.2 222.2,244.4 224.0,243.9 225.8,243.2 227.6,243.5 229.4,242.8 231.2,242.3 233.0,245.9 234.8,249.4 236.6,250.0 238.4,251.8 240.2,253.3 242.0,255.9 242.7,256.2" fill="none" stroke="#8a2ad4" stroke-width="1.4" stroke-opacity="1.0" stroke-linejoin="round"/>
<polyline points="31.5,255.2 33.3,253.6 35.1,252.1 36.9,250.8 38.7,250.4 40.5,252.4 42.3,250.3 44.1,247.5 45.9,243.7 47.7,240.7 49.5,238.9 51.3,236.3 53.1,234.6 54.9,231.1 56.7,228.3 58.5,225.3 60.3,221.2 62.1,217.5 63.9,214.6 65.7,210.7 67.5,208.3 69.3,205.1 71.1,202.4 72.9,205.3 74.7,207.8 76.5,211.8 78.3,214.2 80.1,218.6 81.9,222.4 83.7,226.5 85.5,230.1 87.3,233.7 89.1,235.9 90.9,237.6 92.7,240.0 94.5,238.6 96.3,237.3 98.1,236.0 99.9,233.2 101.7,230.4 103.5,227.3 105.3,226.6 107.1,227.9 108.9,229.0 110.7,233.2 112.5,236.9 114.3,240.8 116.1,242.4 117.9,242.4 119.7,243.0 121.5,243.6 123.3,243.8 125.1,243.7 126.9,245.7 128.7,248.2 130.5,250.8 132.3,256.8 134.1,260.4 135.9,260.5 137.7,259.8 139.5,261.7 141.3,264.2 143.1,260.4 144.9,257.4 146.7,253.8 148.5,251.5 150.3,248.3 152.1,246.1 153.9,244.0 155.7,244.4 157.5,244.0 159.3,250.4 161.1,253.3 162.9,254.4 164.7,255.4 166.5,257.8 168.3,262.0 170.1,263.5 171.9,264.4 173.7,265.0 175.5,265.2 177.3,263.3 179.1,257.4 180.9,254.0 182.7,255.8 184.5,254.9 186.3,253.7 188.1,250.4 189.9,247.3 191.7,243.5 193.5,239.9 195.3,237.1 197.1,234.2 197.9,233.2" fill="none" stroke="#9a48d6" stroke-width="1.6" stroke-opacity="1.0" stroke-linejoin="round"/>
<polyline points="31.5,200.1 33.3,201.3 35.1,203.5 36.9,206.3 38.7,210.4 40.5,213.3 42.3,215.0 44.1,214.8 45.9,214.7 47.7,214.6 49.5,212.6 51.3,208.2 53.1,205.3 54.9,202.4 56.7,202.6 58.5,203.2 60.3,200.5 62.1,197.7 63.9,196.1 65.7,195.3 67.5,192.0 69.3,188.6 71.1,183.8 72.9,182.1 74.7,184.0 76.5,185.9 78.3,186.9 80.1,188.8 81.9,193.6 83.7,199.3 85.5,204.9 87.3,210.2 89.1,215.1 90.9,217.9 92.7,221.1 94.5,222.0 96.3,222.0 98.1,223.3 99.9,223.7 101.7,220.5 103.5,216.2 105.3,214.4 107.1,216.6 108.9,218.5 110.7,221.5 112.5,226.0 114.3,229.6 116.1,232.2 117.9,233.3 119.7,234.5 121.5,234.8 123.3,235.6 125.1,238.8 126.9,240.5 128.7,243.2 130.5,245.0 132.3,249.4 134.1,252.2 135.9,250.1 137.7,249.6 139.5,250.9 141.3,252.7 143.1,251.2 144.9,248.5 146.7,246.1 148.5,245.9 150.3,244.3 152.1,242.6 153.9,240.2 155.7,239.3 157.5,242.2 159.3,251.4 161.1,252.9 162.9,254.0 164.7,256.4 166.5,258.1 168.3,261.8 170.1,263.4 171.9,262.0 173.7,263.6 175.5,264.6 177.3,260.4 179.1,256.0 180.9,252.3 182.7,251.2 184.5,251.7 186.3,250.0 188.1,246.8 189.9,243.4 191.7,240.1 193.5,237.5 195.3,231.1 197.1,224.3 197.4,223.2" fill="none" stroke="#9a48d6" stroke-width="1.7" stroke-opacity="1.0" stroke-linejoin="round"/>
<polyline points="31.5,280.5 33.3,277.9 35.1,275.0 36.9,271.9 38.7,269.3 40.5,269.2 42.3,269.7 44.1,270.9 45.9,271.1 47.7,271.5 49.5,272.9 51.3,267.6 53.1,260.9 54.9,253.8 56.7,250.8 58.5,247.5 60.3,246.6 62.1,244.7 63.9,244.2 65.7,243.2 67.5,239.8 69.3,236.8 71.1,233.8 72.9,231.3 74.7,229.8 76.5,228.9 78.3,227.7 80.1,230.5 81.9,235.3 83.7,242.8 85.5,252.5 87.3,259.0 89.1,264.1 90.9,268.7 92.7,270.0 94.5,270.9 96.3,272.8 98.1,275.6 99.9,275.2 101.7,274.7 103.5,273.2 105.3,272.8 107.1,273.8 108.9,275.4 110.7,276.9 112.5,278.0 114.3,279.7 116.1,281.1 117.9,282.0 119.7,283.4 121.5,283.9 123.3,286.1 125.1,287.4 126.9,288.6 128.7,291.8 130.5,294.3 132.3,296.3 134.1,298.6 135.9,297.3 137.7,295.3 139.5,297.9 141.3,301.0 143.1,299.7 144.9,296.7 146.7,293.6 148.5,291.5 150.3,290.1 152.1,287.4 153.9,286.3 155.7,286.5 157.5,288.9 159.3,290.7 161.1,292.7 162.9,295.8 164.7,297.8 166.5,300.0 168.3,302.1 170.1,299.7 171.9,298.0 173.7,295.6 175.5,293.4 177.3,291.6 179.1,289.4 180.9,287.4 182.7,285.0 184.5,282.9 186.3,280.6 188.1,277.2 189.9,274.0 191.7,270.4 193.5,265.8 195.3,260.2 197.1,253.0 198.0,250.0" fill="none" stroke="#9a48d6" stroke-width="1.7" stroke-opacity="1.0" stroke-linejoin="round"/>
<polyline points="190.6,242.1 192.2,239.7 193.8,237.3 195.4,230.8 197.0,224.5 198.6,222.6 200.2,221.5 201.8,221.1 203.4,219.2 205.0,218.3 206.6,217.1 208.2,219.2 209.8,220.8 211.4,221.3 213.0,221.2 214.6,220.7 216.2,220.1 217.8,219.5 219.4,216.9 221.0,214.5 222.6,212.2 224.2,210.3 225.8,210.7 227.4,211.8 229.0,211.5 230.6,210.5 232.2,209.8 233.8,214.1 235.4,218.7 237.0,225.2 238.6,231.9 240.2,239.4 241.8,246.7 243.4,246.9 245.0,238.2 246.6,229.4 247.5,224.1" fill="none" stroke="#8d2fd4" stroke-width="1.2" stroke-opacity="1.0" stroke-linejoin="round"/>
<polyline points="190.6,248.0 192.2,243.6 193.8,240.1 195.4,235.5 197.0,230.4 198.6,228.2 200.2,227.7 201.8,226.4 203.4,225.9 205.0,225.1 206.6,224.5 208.2,225.5 209.8,225.0 211.4,224.6 213.0,224.5 214.6,224.4 216.2,223.9 217.8,224.3 219.4,223.0 221.0,221.6 222.6,219.8 224.2,218.4 225.8,218.7 227.4,218.2 229.0,216.6 230.6,214.9 232.2,214.9 233.8,219.5 235.4,223.7 237.0,230.4 238.6,236.1 240.2,242.1 241.8,249.0 243.4,249.2 245.0,241.7 246.6,234.2 247.5,229.6" fill="none" stroke="#8d2fd4" stroke-width="1.2" stroke-opacity="1.0" stroke-linejoin="round"/>
<polyline points="190.6,252.9 192.2,247.5 193.8,243.1 195.4,239.6 197.0,235.4 198.6,233.0 200.2,231.5 201.8,230.7 203.4,231.6 205.0,232.3 206.6,233.3 208.2,232.2 209.8,230.1 211.4,229.3 213.0,228.5 214.6,228.1 216.2,228.9 217.8,229.0 219.4,228.9 221.0,229.2 222.6,228.3 224.2,227.7 225.8,226.2 227.4,224.7 229.0,222.2 230.6,220.1 232.2,219.1 233.8,223.3 235.4,228.5 237.0,234.1 238.6,240.0 240.2,246.4 241.8,252.5 243.4,253.6 245.0,247.0 246.6,240.8 247.5,236.9" fill="none" stroke="#8d2fd4" stroke-width="1.2" stroke-opacity="1.0" stroke-linejoin="round"/>
<polyline points="247.5,223.9 249.1,222.2 250.7,219.6 252.3,218.5 253.9,217.9 255.5,217.9 257.1,218.5 258.7,219.8 260.3,220.1 261.9,216.4 263.5,212.0 265.1,207.9 266.7,207.3 268.3,205.9 269.9,205.5 271.5,203.9 273.1,203.2 274.7,202.6 276.3,200.9 277.9,200.5 279.5,195.3 281.1,188.6 282.7,183.6 284.3,180.2 285.9,177.2 287.5,173.7 289.1,169.5 290.7,165.4 292.3,161.3 293.9,155.7 295.5,148.8 297.1,144.0 298.7,140.0 300.3,139.3 301.9,139.7 303.5,135.5 305.1,132.2 306.7,127.3 308.3,126.6 309.9,126.4 311.5,123.5 313.1,120.8 314.7,122.3 316.3,127.3 317.9,134.9 319.5,142.2 321.1,149.3 322.7,155.9 324.3,164.1 325.9,173.2 327.5,175.7 329.1,174.9 330.7,174.4 332.3,172.6 333.9,170.6 335.5,167.8 337.1,165.2 338.7,161.8 340.3,160.4 341.9,162.9 343.5,165.4 345.1,169.6 346.7,173.0 348.3,171.9 349.9,170.5 351.5,170.3 353.1,171.2 354.7,171.6 356.3,169.5 357.9,167.4 359.5,164.8 361.1,163.1 362.7,160.8 364.3,157.1 365.9,154.2 367.5,157.8 369.1,160.4 370.7,162.4 372.3,163.7 373.9,164.3 375.5,165.0 377.1,164.9 378.7,163.4 380.3,162.3 381.9,161.1 383.5,163.3 385.1,167.6 386.7,170.6 388.3,168.8 389.9,166.7 391.5,163.7 393.1,158.6 394.7,153.4 396.3,147.3 397.9,140.3 399.5,133.9 401.1,128.7 402.7,125.9 404.3,122.6 405.9,118.1 407.5,112.8 409.1,107.7 410.7,103.1 412.3,99.0 413.9,95.1 415.5,91.5 417.1,88.4 418.7,85.4 420.3,82.2 421.9,76.6 423.5,70.8 425.1,65.3 426.7,60.6 428.3,58.4 429.9,56.2 431.5,53.4 433.1,50.0 434.7,47.9 436.3,46.1 437.9,45.4 439.5,43.5 441.1,41.6 442.7,40.3 444.3,41.9 445.9,43.5 447.5,43.4 449.1,42.0 450.7,40.5 452.3,39.1 453.9,36.7 455.5,34.4 457.1,30.1 458.7,26.7 460.3,27.3 461.9,29.4 463.5,27.0 465.1,22.1 466.7,17.4 468.3,11.5 468.7,10.4" fill="none" stroke="#8d2fd4" stroke-width="1.3" stroke-opacity="1.0" stroke-linejoin="round"/>
<polyline points="247.5,227.7 249.1,226.2 250.7,223.5 252.3,222.1 253.9,222.1 255.5,221.1 257.1,221.1 258.7,221.5 260.3,222.2 261.9,219.0 263.5,215.2 265.1,210.8 266.7,210.1 268.3,209.2 269.9,208.6 271.5,207.8 273.1,206.4 274.7,204.5 276.3,203.5 277.9,202.5 279.5,198.1 281.1,191.9 282.7,188.0 284.3,184.7 285.9,180.7 287.5,176.7 289.1,173.0 290.7,169.4 292.3,165.4 293.9,159.3 295.5,153.4 297.1,147.0 298.7,142.2 300.3,141.0 301.9,140.7 303.5,137.2 305.1,134.0 306.7,129.8 308.3,128.1 309.9,127.3 311.5,124.3 313.1,123.1 314.7,124.8 316.3,130.1 317.9,137.3 319.5,143.7 321.1,151.0 322.7,158.3 324.3,167.3 325.9,175.4 327.5,179.9 329.1,179.1 330.7,178.9 332.3,178.1 333.9,175.8 335.5,173.3 337.1,170.7 338.7,168.4 340.3,169.2 341.9,170.9 343.5,173.9 345.1,176.0 346.7,178.1 348.3,177.8 349.9,176.7 351.5,176.4 353.1,176.7 354.7,176.4 356.3,175.2 357.9,173.3 359.5,171.9 361.1,170.5 362.7,168.8 364.3,164.1 365.9,160.8 367.5,163.2 369.1,165.1 370.7,166.3 372.3,167.2 373.9,168.6 375.5,168.7 377.1,168.3 378.7,167.8 380.3,166.8 381.9,165.6 383.5,166.7 385.1,170.9 386.7,173.9 388.3,172.2 389.9,169.2 391.5,165.8 393.1,161.6 394.7,156.5 396.3,151.4 397.9,145.4 399.5,138.8 401.1,133.5 402.7,128.8 404.3,123.8 405.9,119.0 407.5,114.6 409.1,109.8 410.7,104.4 412.3,100.1 413.9,96.9 415.5,93.2 417.1,90.6 418.7,87.3 420.3,84.3 421.9,79.0 423.5,74.1 425.1,67.1 426.7,62.1 428.3,60.6 429.9,57.8 431.5,55.6 433.1,51.9 434.7,50.5 436.3,48.8 437.9,47.7 439.5,45.1 441.1,43.5 442.7,42.1 444.3,44.3 445.9,46.3 447.5,46.1 449.1,43.9 450.7,42.0 452.3,40.0 453.9,37.9 455.5,35.0 457.1,31.2 458.7,28.2 460.3,29.1 461.9,31.6 463.5,29.6 465.1,24.1 466.7,19.0 468.3,13.3 468.7,12.6" fill="none" stroke="#8d2fd4" stroke-width="1.3" stroke-opacity="1.0" stroke-linejoin="round"/>
<polyline points="247.5,232.6 249.1,230.0 250.7,228.3 252.3,226.8 253.9,225.5 255.5,224.5 257.1,224.5 258.7,225.6 260.3,225.5 261.9,222.8 263.5,218.9 265.1,215.1 266.7,214.2 268.3,213.7 269.9,212.0 271.5,210.8 273.1,208.8 274.7,207.4 276.3,205.9 277.9,203.5 279.5,200.8 281.1,196.5 282.7,191.7 284.3,187.2 285.9,183.5 287.5,181.0 289.1,176.8 290.7,173.3 292.3,167.7 293.9,162.3 295.5,155.8 297.1,149.4 298.7,144.4 300.3,141.9 301.9,140.5 303.5,138.5 305.1,136.0 306.7,133.3 308.3,132.0 309.9,129.4 311.5,126.9 313.1,125.8 314.7,127.9 316.3,132.3 317.9,139.2 319.5,145.5 321.1,153.2 322.7,161.1 324.3,168.7 325.9,177.5 327.5,183.0 329.1,184.1 330.7,183.0 332.3,182.4 333.9,180.9 335.5,179.4 337.1,177.4 338.7,176.9 340.3,177.3 341.9,179.7 343.5,181.6 345.1,182.3 346.7,183.1 348.3,182.7 349.9,182.5 351.5,181.6 353.1,181.2 354.7,181.7 356.3,181.0 357.9,179.8 359.5,178.0 361.1,176.4 362.7,175.0 364.3,169.6 365.9,165.4 367.5,167.0 369.1,168.5 370.7,169.8 372.3,170.5 373.9,170.9 375.5,172.3 377.1,173.0 378.7,172.8 380.3,171.2 381.9,169.8 383.5,171.4 385.1,174.7 386.7,177.8 388.3,175.3 389.9,172.6 391.5,169.9 393.1,167.3 394.7,162.1 396.3,156.7 397.9,150.8 399.5,143.8 401.1,138.2 402.7,131.8 404.3,126.5 405.9,122.2 407.5,116.6 409.1,111.3 410.7,106.4 412.3,102.4 413.9,98.5 415.5,94.8 417.1,92.1 418.7,89.0 420.3,86.0 421.9,80.8 423.5,76.3 425.1,68.9 426.7,64.2 428.3,62.0 429.9,59.4 431.5,57.6 433.1,54.0 434.7,52.7 436.3,51.4 437.9,49.5 439.5,47.7 441.1,46.3 442.7,44.2 444.3,45.7 445.9,47.3 447.5,46.9 449.1,45.5 450.7,43.7 452.3,41.9 453.9,39.9 455.5,37.5 457.1,33.6 458.7,30.2 460.3,31.1 461.9,33.5 463.5,30.5 465.1,25.7 466.7,21.5 468.3,16.1 468.7,15.0" fill="none" stroke="#8d2fd4" stroke-width="1.3" stroke-opacity="1.0" stroke-linejoin="round"/>
<polyline points="247.5,236.5 249.1,234.3 250.7,231.8 252.3,229.8 253.9,229.5 255.5,228.4 257.1,228.0 258.7,228.3 260.3,228.9 261.9,225.6 263.5,221.8 265.1,219.1 266.7,217.9 268.3,216.9 269.9,215.9 271.5,214.1 273.1,212.2 274.7,209.3 276.3,207.1 277.9,205.5 279.5,203.7 281.1,199.1 282.7,194.7 284.3,190.8 285.9,187.1 287.5,183.9 289.1,181.0 290.7,176.6 292.3,170.9 293.9,164.8 295.5,159.4 297.1,153.4 298.7,147.0 300.3,144.2 301.9,141.6 303.5,139.8 305.1,137.9 306.7,135.3 308.3,133.5 309.9,131.3 311.5,129.5 313.1,127.7 314.7,129.8 316.3,134.7 317.9,141.2 319.5,147.2 321.1,155.1 322.7,164.1 324.3,171.4 325.9,178.8 327.5,186.9 329.1,187.8 330.7,187.3 332.3,186.8 333.9,187.0 335.5,185.3 337.1,184.6 338.7,185.1 340.3,186.1 341.9,187.7 343.5,189.7 345.1,189.7 346.7,188.8 348.3,187.6 349.9,187.2 351.5,186.6 353.1,186.6 354.7,185.9 356.3,185.5 357.9,185.1 359.5,184.7 361.1,183.5 362.7,182.5 364.3,176.6 365.9,172.7 367.5,172.4 369.1,173.3 370.7,173.9 372.3,174.3 373.9,175.3 375.5,175.8 377.1,176.2 378.7,177.1 380.3,175.3 381.9,173.7 383.5,174.6 385.1,177.9 386.7,180.9 388.3,178.0 389.9,175.9 391.5,173.5 393.1,171.1 394.7,166.9 396.3,161.8 397.9,156.3 399.5,149.9 401.1,142.7 402.7,135.7 404.3,129.1 405.9,124.3 407.5,119.0 409.1,113.6 410.7,108.5 412.3,104.3 413.9,101.1 415.5,97.6 417.1,94.3 418.7,90.8 420.3,86.4 421.9,82.5 423.5,77.9 425.1,71.2 426.7,65.5 428.3,62.8 429.9,61.1 431.5,58.8 433.1,55.8 434.7,54.5 436.3,53.0 437.9,51.2 439.5,48.8 441.1,47.5 442.7,46.0 444.3,47.3 445.9,49.1 447.5,48.9 449.1,47.4 450.7,45.0 452.3,43.1 453.9,41.2 455.5,38.3 457.1,35.8 458.7,31.9 460.3,32.6 461.9,35.4 463.5,31.6 465.1,28.0 466.7,23.4 468.3,18.3 468.7,17.0" fill="none" stroke="#8d2fd4" stroke-width="1.3" stroke-opacity="1.0" stroke-linejoin="round"/>
<polyline points="84.4,238.0 86.2,244.1 88.0,251.0 89.8,254.9 91.6,258.6 93.4,260.5 95.2,260.3 97.0,260.1 98.8,259.8 100.6,258.6 102.4,257.5 104.2,257.3 106.0,258.2 107.8,258.7 109.6,260.2 111.4,261.7 113.2,264.6 115.0,266.6 116.8,266.6 118.6,267.3 120.4,268.4 122.2,269.3 124.0,270.5 125.8,271.4 127.6,272.2 129.4,273.8 131.2,274.3 133.0,275.6 134.8,276.8 136.6,277.7 138.4,278.6 140.2,280.3 142.0,280.9 143.8,281.0 145.6,279.3 147.4,278.8 149.2,278.4 151.0,277.4 152.8,278.3 154.6,277.5 156.4,277.9 158.2,278.5 160.0,281.5 161.8,283.5 163.6,286.0 165.4,287.7 167.2,289.4 169.0,291.0 170.8,291.9 172.6,291.5 174.4,292.3 176.2,291.4 178.0,290.1 179.8,287.3 181.6,284.7 183.4,282.4 185.2,281.3 187.0,280.0 188.8,277.5 190.6,275.7 192.4,270.2 194.2,265.0 196.0,259.1 196.5,256.7" fill="none" stroke="#3a86dc" stroke-width="1.3" stroke-opacity="1.0" stroke-linejoin="round"/>
<polyline points="86.3,250.7 88.1,254.3 89.9,256.7 91.7,260.6 93.5,263.3 95.3,266.1 97.1,268.6 98.9,268.9 100.7,268.4 102.5,265.6 104.3,264.3 106.1,264.4 107.9,266.2 109.7,267.6 111.5,270.5 113.3,273.1 115.1,274.3 116.9,275.3 118.7,275.0 120.5,274.1 122.3,272.7 124.1,274.7 125.9,275.9 127.7,277.9 129.5,280.1 131.3,281.6 133.1,283.3 134.9,284.0 136.7,286.2 138.5,286.9 140.3,289.2 142.1,288.7 143.9,287.5 145.7,285.6 147.5,283.7 149.3,283.1 151.1,283.6 152.9,283.5 154.7,284.0 156.5,283.1 158.3,283.9 160.1,285.9 161.9,287.1 163.7,288.3 165.5,289.3 167.3,291.5 169.1,294.0 170.9,296.7 172.7,296.3 174.5,294.9 176.3,294.8 178.1,292.5 179.9,291.6 181.7,291.0 183.5,289.1 185.3,287.5 187.1,285.0 188.9,281.8 190.7,279.5 191.0,279.3" fill="none" stroke="#666" stroke-width="1.2" stroke-opacity="1.0" stroke-linejoin="round"/>
<polyline points="86.3,245.9 88.1,250.1 89.9,253.2 91.7,255.3 93.5,256.2 95.3,257.0 97.1,258.1 98.9,257.1 100.7,256.4 102.5,255.1 104.3,253.3 106.1,254.3 107.9,255.4 109.7,258.7 111.5,261.3 113.3,263.7 115.1,265.0 116.9,266.6 118.7,267.6 120.5,267.4 122.3,267.8 124.1,268.6 125.9,269.8 127.7,272.2 129.5,273.1 131.3,275.0 133.1,276.0 134.9,276.3 136.7,276.4 138.5,276.8 140.3,278.5 142.1,276.8 143.9,275.7 145.7,274.5 147.5,272.6 149.3,273.0 151.1,273.4 152.9,274.5 154.7,275.4 156.5,275.9 158.3,277.3 160.1,280.2 161.9,282.7 163.7,285.2 165.5,287.6 167.3,290.4 169.1,292.0 170.9,293.9 172.7,292.9 174.5,293.7 176.3,292.9 178.1,290.2 179.9,286.9 181.7,283.9 183.5,280.1 185.3,276.3 187.1,271.3 188.0,269.0" fill="none" stroke="#8030d0" stroke-width="1.3" stroke-opacity="1.0" stroke-linejoin="round"/>
<rect x="71.3" y="8" width="15.200000000000003" height="296.4" fill="rgb(248,170,40)" fill-opacity="0.37"/>
<rect x="231.6" y="8" width="14.700000000000017" height="296.4" fill="rgb(248,170,40)" fill-opacity="0.37"/>
<rect x="310.4" y="8" width="14.900000000000034" height="296.4" fill="rgb(248,170,40)" fill-opacity="0.37"/>
<rect x="360.5" y="8" width="13.800000000000011" height="296.4" fill="rgb(70,180,100)" fill-opacity="0.33"/>
<text x="78.5" y="44.5" transform="rotate(-90 78.5 44.5)" fill="#e8a540" font-size="7.3" text-anchor="middle" dominant-baseline="central">Agung</text>
<text x="239.6" y="41" transform="rotate(-90 239.6 41)" fill="#e8a540" font-size="6.8" text-anchor="middle" dominant-baseline="central">El Chichón</text>
<text x="318" y="43.7" transform="rotate(-90 318 43.7)" fill="#e8a540" font-size="7" text-anchor="middle" dominant-baseline="central">Pinatubo</text>
<text x="368.6" y="66.3" transform="rotate(-90 368.6 66.3)" fill="#36a55a" font-size="8.6" text-anchor="middle" dominant-baseline="central" textLength="55" lengthAdjust="spacingAndGlyphs">1997-98 El Niño</text>
<line x1="462.0" y1="213.6" x2="357" y2="304.4" stroke="#e8582f" stroke-width="1.75" stroke-dasharray="7.2 6" stroke-dashoffset="3.5"/>
<line x1="462.0" y1="213.6" x2="376.3" y2="304.4" stroke="#e8582f" stroke-width="1.75" stroke-dasharray="7.2 6" stroke-dashoffset="3.5"/>
<line x1="462.0" y1="213.6" x2="401.3" y2="304.4" stroke="#e8582f" stroke-width="1.75" stroke-dasharray="7.2 6" stroke-dashoffset="3.5"/>
<line x1="462.0" y1="213.6" x2="420.2" y2="304.4" stroke="#e8582f" stroke-width="1.75" stroke-dasharray="7.2 6" stroke-dashoffset="3.5"/>
<rect x="31.6" y="8" width="437.2" height="296.4" fill="none" stroke="#6e6e6e" stroke-width="1.7"/>
<line x1="31.6" y1="304.4" x2="38.2" y2="304.4" stroke="#707070" stroke-width="1.5"/>
<line x1="462.40000000000003" y1="304.4" x2="468.8" y2="304.4" stroke="#707070" stroke-width="1.5"/>
<line x1="31.6" y1="293.0" x2="38.2" y2="293.0" stroke="#707070" stroke-width="1.5"/>
<line x1="462.40000000000003" y1="293.0" x2="468.8" y2="293.0" stroke="#707070" stroke-width="1.5"/>
<line x1="31.6" y1="281.6" x2="38.2" y2="281.6" stroke="#707070" stroke-width="1.5"/>
<line x1="462.40000000000003" y1="281.6" x2="468.8" y2="281.6" stroke="#707070" stroke-width="1.5"/>
<line x1="31.6" y1="270.2" x2="38.2" y2="270.2" stroke="#707070" stroke-width="1.5"/>
<line x1="462.40000000000003" y1="270.2" x2="468.8" y2="270.2" stroke="#707070" stroke-width="1.5"/>
<line x1="31.6" y1="258.8" x2="38.2" y2="258.8" stroke="#707070" stroke-width="1.5"/>
<line x1="462.40000000000003" y1="258.8" x2="468.8" y2="258.8" stroke="#707070" stroke-width="1.5"/>
<line x1="31.6" y1="247.4" x2="38.2" y2="247.4" stroke="#707070" stroke-width="1.5"/>
<line x1="462.40000000000003" y1="247.4" x2="468.8" y2="247.4" stroke="#707070" stroke-width="1.5"/>
<line x1="31.6" y1="236.0" x2="38.2" y2="236.0" stroke="#707070" stroke-width="1.5"/>
<line x1="462.40000000000003" y1="236.0" x2="468.8" y2="236.0" stroke="#707070" stroke-width="1.5"/>
<line x1="31.6" y1="224.6" x2="38.2" y2="224.6" stroke="#707070" stroke-width="1.5"/>
<line x1="462.40000000000003" y1="224.6" x2="468.8" y2="224.6" stroke="#707070" stroke-width="1.5"/>
<line x1="31.6" y1="213.2" x2="38.2" y2="213.2" stroke="#707070" stroke-width="1.5"/>
<line x1="462.40000000000003" y1="213.2" x2="468.8" y2="213.2" stroke="#707070" stroke-width="1.5"/>
<line x1="31.6" y1="201.8" x2="38.2" y2="201.8" stroke="#707070" stroke-width="1.5"/>
<line x1="462.40000000000003" y1="201.8" x2="468.8" y2="201.8" stroke="#707070" stroke-width="1.5"/>
<line x1="31.6" y1="190.4" x2="38.2" y2="190.4" stroke="#707070" stroke-width="1.5"/>
<line x1="462.40000000000003" y1="190.4" x2="468.8" y2="190.4" stroke="#707070" stroke-width="1.5"/>
<line x1="31.6" y1="179.0" x2="38.2" y2="179.0" stroke="#707070" stroke-width="1.5"/>
<line x1="462.40000000000003" y1="179.0" x2="468.8" y2="179.0" stroke="#707070" stroke-width="1.5"/>
<line x1="31.6" y1="167.6" x2="38.2" y2="167.6" stroke="#707070" stroke-width="1.5"/>
<line x1="462.40000000000003" y1="167.6" x2="468.8" y2="167.6" stroke="#707070" stroke-width="1.5"/>
<line x1="31.6" y1="156.2" x2="38.2" y2="156.2" stroke="#707070" stroke-width="1.5"/>
<line x1="462.40000000000003" y1="156.2" x2="468.8" y2="156.2" stroke="#707070" stroke-width="1.5"/>
<line x1="31.6" y1="144.8" x2="38.2" y2="144.8" stroke="#707070" stroke-width="1.5"/>
<line x1="462.40000000000003" y1="144.8" x2="468.8" y2="144.8" stroke="#707070" stroke-width="1.5"/>
<line x1="31.6" y1="133.39999999999998" x2="38.2" y2="133.39999999999998" stroke="#707070" stroke-width="1.5"/>
<line x1="462.40000000000003" y1="133.39999999999998" x2="468.8" y2="133.39999999999998" stroke="#707070" stroke-width="1.5"/>
<line x1="31.6" y1="122.0" x2="38.2" y2="122.0" stroke="#707070" stroke-width="1.5"/>
<line x1="462.40000000000003" y1="122.0" x2="468.8" y2="122.0" stroke="#707070" stroke-width="1.5"/>
<line x1="31.6" y1="110.6" x2="38.2" y2="110.6" stroke="#707070" stroke-width="1.5"/>
<line x1="462.40000000000003" y1="110.6" x2="468.8" y2="110.6" stroke="#707070" stroke-width="1.5"/>
<line x1="31.6" y1="99.19999999999999" x2="38.2" y2="99.19999999999999" stroke="#707070" stroke-width="1.5"/>
<line x1="462.40000000000003" y1="99.19999999999999" x2="468.8" y2="99.19999999999999" stroke="#707070" stroke-width="1.5"/>
<line x1="31.6" y1="87.79999999999998" x2="38.2" y2="87.79999999999998" stroke="#707070" stroke-width="1.5"/>
<line x1="462.40000000000003" y1="87.79999999999998" x2="468.8" y2="87.79999999999998" stroke="#707070" stroke-width="1.5"/>
<line x1="31.6" y1="76.4" x2="38.2" y2="76.4" stroke="#707070" stroke-width="1.5"/>
<line x1="462.40000000000003" y1="76.4" x2="468.8" y2="76.4" stroke="#707070" stroke-width="1.5"/>
<line x1="31.6" y1="65.0" x2="38.2" y2="65.0" stroke="#707070" stroke-width="1.5"/>
<line x1="462.40000000000003" y1="65.0" x2="468.8" y2="65.0" stroke="#707070" stroke-width="1.5"/>
<line x1="31.6" y1="53.599999999999994" x2="38.2" y2="53.599999999999994" stroke="#707070" stroke-width="1.5"/>
<line x1="462.40000000000003" y1="53.599999999999994" x2="468.8" y2="53.599999999999994" stroke="#707070" stroke-width="1.5"/>
<line x1="31.6" y1="42.19999999999999" x2="38.2" y2="42.19999999999999" stroke="#707070" stroke-width="1.5"/>
<line x1="462.40000000000003" y1="42.19999999999999" x2="468.8" y2="42.19999999999999" stroke="#707070" stroke-width="1.5"/>
<line x1="31.6" y1="30.799999999999983" x2="38.2" y2="30.799999999999983" stroke="#707070" stroke-width="1.5"/>
<line x1="462.40000000000003" y1="30.799999999999983" x2="468.8" y2="30.799999999999983" stroke="#707070" stroke-width="1.5"/>
<line x1="31.6" y1="19.400000000000006" x2="38.2" y2="19.400000000000006" stroke="#707070" stroke-width="1.5"/>
<line x1="462.40000000000003" y1="19.400000000000006" x2="468.8" y2="19.400000000000006" stroke="#707070" stroke-width="1.5"/>
<line x1="31.6" y1="8.0" x2="38.2" y2="8.0" stroke="#707070" stroke-width="1.5"/>
<line x1="462.40000000000003" y1="8.0" x2="468.8" y2="8.0" stroke="#707070" stroke-width="1.5"/>
<line x1="48.0" y1="8" x2="48.0" y2="13" stroke="#555" stroke-width="1.1"/>
<line x1="48.0" y1="299.4" x2="48.0" y2="304.4" stroke="#555" stroke-width="1.1"/>
<line x1="81.75999999999999" y1="8" x2="81.75999999999999" y2="13" stroke="#555" stroke-width="1.1"/>
<line x1="81.75999999999999" y1="299.4" x2="81.75999999999999" y2="304.4" stroke="#555" stroke-width="1.1"/>
<line x1="115.52" y1="8" x2="115.52" y2="13" stroke="#555" stroke-width="1.1"/>
<line x1="115.52" y1="299.4" x2="115.52" y2="304.4" stroke="#555" stroke-width="1.1"/>
<line x1="149.28" y1="8" x2="149.28" y2="13" stroke="#555" stroke-width="1.1"/>
<line x1="149.28" y1="299.4" x2="149.28" y2="304.4" stroke="#555" stroke-width="1.1"/>
<line x1="183.04" y1="8" x2="183.04" y2="13" stroke="#555" stroke-width="1.1"/>
<line x1="183.04" y1="299.4" x2="183.04" y2="304.4" stroke="#555" stroke-width="1.1"/>
<line x1="216.79999999999998" y1="8" x2="216.79999999999998" y2="13" stroke="#555" stroke-width="1.1"/>
<line x1="216.79999999999998" y1="299.4" x2="216.79999999999998" y2="304.4" stroke="#555" stroke-width="1.1"/>
<line x1="250.56" y1="8" x2="250.56" y2="13" stroke="#555" stroke-width="1.1"/>
<line x1="250.56" y1="299.4" x2="250.56" y2="304.4" stroke="#555" stroke-width="1.1"/>
<line x1="284.32" y1="8" x2="284.32" y2="13" stroke="#555" stroke-width="1.1"/>
<line x1="284.32" y1="299.4" x2="284.32" y2="304.4" stroke="#555" stroke-width="1.1"/>
<line x1="318.08" y1="8" x2="318.08" y2="13" stroke="#555" stroke-width="1.1"/>
<line x1="318.08" y1="299.4" x2="318.08" y2="304.4" stroke="#555" stroke-width="1.1"/>
<line x1="351.84" y1="8" x2="351.84" y2="13" stroke="#555" stroke-width="1.1"/>
<line x1="351.84" y1="299.4" x2="351.84" y2="304.4" stroke="#555" stroke-width="1.1"/>
<line x1="385.59999999999997" y1="8" x2="385.59999999999997" y2="13" stroke="#555" stroke-width="1.1"/>
<line x1="385.59999999999997" y1="299.4" x2="385.59999999999997" y2="304.4" stroke="#555" stroke-width="1.1"/>
<line x1="419.35999999999996" y1="8" x2="419.35999999999996" y2="13" stroke="#555" stroke-width="1.1"/>
<line x1="419.35999999999996" y1="299.4" x2="419.35999999999996" y2="304.4" stroke="#555" stroke-width="1.1"/>
<line x1="453.12" y1="8" x2="453.12" y2="13" stroke="#555" stroke-width="1.1"/>
<line x1="453.12" y1="299.4" x2="453.12" y2="304.4" stroke="#555" stroke-width="1.1"/>
<text x="27.6" y="14.9" fill="#555" font-size="10.8" text-anchor="end" font-weight="bold" textLength="10.6" lengthAdjust="spacingAndGlyphs">20</text>
<text x="27.6" y="68.9" fill="#555" font-size="10.8" text-anchor="end" font-weight="bold" textLength="10.6" lengthAdjust="spacingAndGlyphs">15</text>
<text x="27.6" y="125.9" fill="#555" font-size="10.8" text-anchor="end" font-weight="bold" textLength="10.6" lengthAdjust="spacingAndGlyphs">10</text>
<text x="27.6" y="182.9" fill="#555" font-size="10.8" text-anchor="end" font-weight="bold" >5</text>
<text x="27.6" y="239.9" fill="#555" font-size="10.8" text-anchor="end" font-weight="bold" >0</text>
<text x="27.6" y="296.9" fill="#555" font-size="10.8" text-anchor="end" font-weight="bold" >-5</text>
<text x="48.0" y="315.8" fill="#333" stroke="#333" stroke-width="0.2" font-size="10.3" text-anchor="middle" textLength="20.4" lengthAdjust="spacingAndGlyphs">1960</text>
<text x="81.75999999999999" y="315.8" fill="#333" stroke="#333" stroke-width="0.2" font-size="10.3" text-anchor="middle" textLength="20.4" lengthAdjust="spacingAndGlyphs">1964</text>
<text x="115.52" y="315.8" fill="#333" stroke="#333" stroke-width="0.2" font-size="10.3" text-anchor="middle" textLength="20.4" lengthAdjust="spacingAndGlyphs">1968</text>
<text x="149.28" y="315.8" fill="#333" stroke="#333" stroke-width="0.2" font-size="10.3" text-anchor="middle" textLength="20.4" lengthAdjust="spacingAndGlyphs">1972</text>
<text x="183.04" y="315.8" fill="#333" stroke="#333" stroke-width="0.2" font-size="10.3" text-anchor="middle" textLength="20.4" lengthAdjust="spacingAndGlyphs">1976</text>
<text x="216.79999999999998" y="315.8" fill="#333" stroke="#333" stroke-width="0.2" font-size="10.3" text-anchor="middle" textLength="20.4" lengthAdjust="spacingAndGlyphs">1980</text>
<text x="250.56" y="315.8" fill="#333" stroke="#333" stroke-width="0.2" font-size="10.3" text-anchor="middle" textLength="20.4" lengthAdjust="spacingAndGlyphs">1984</text>
<text x="284.32" y="315.8" fill="#333" stroke="#333" stroke-width="0.2" font-size="10.3" text-anchor="middle" textLength="20.4" lengthAdjust="spacingAndGlyphs">1988</text>
<text x="318.08" y="315.8" fill="#333" stroke="#333" stroke-width="0.2" font-size="10.3" text-anchor="middle" textLength="20.4" lengthAdjust="spacingAndGlyphs">1992</text>
<text x="351.84" y="315.8" fill="#333" stroke="#333" stroke-width="0.2" font-size="10.3" text-anchor="middle" textLength="20.4" lengthAdjust="spacingAndGlyphs">1996</text>
<text x="385.59999999999997" y="315.8" fill="#333" stroke="#333" stroke-width="0.2" font-size="10.3" text-anchor="middle" textLength="20.4" lengthAdjust="spacingAndGlyphs">2000</text>
<text x="419.35999999999996" y="315.8" fill="#333" stroke="#333" stroke-width="0.2" font-size="10.3" text-anchor="middle" textLength="20.4" lengthAdjust="spacingAndGlyphs">2004</text>
<text x="453.12" y="315.8" fill="#333" stroke="#333" stroke-width="0.2" font-size="10.3" text-anchor="middle" textLength="20.4" lengthAdjust="spacingAndGlyphs">2008</text>
<text x="19.2" y="202.5" transform="rotate(-90 19.2 202.5)" fill="#3a3a3a" font-size="11" font-weight="bold"><tspan textLength="13" lengthAdjust="spacingAndGlyphs">10</tspan><tspan font-size="7" dy="-4.5" textLength="7" lengthAdjust="spacingAndGlyphs">22</tspan><tspan dy="4.5" dx="2" textLength="31" lengthAdjust="spacingAndGlyphs">Joules</tspan></text>
<text x="125.3" y="24.8" fill="#333" stroke="#333" stroke-width="0.2" font-size="12.4" textLength="35.8" lengthAdjust="spacingAndGlyphs">ORAS4</text>
<text x="167.6" y="24.8" fill="#333" stroke="#333" stroke-width="0.2" font-size="12.4" textLength="24.8" lengthAdjust="spacingAndGlyphs">OHC</text>
<text x="199.6" y="24.8" fill="#333" stroke="#333" stroke-width="0.2" font-size="12.4" textLength="13.6" lengthAdjust="spacingAndGlyphs">10</text>
<text x="213.6" y="18.8" fill="#333" stroke="#333" stroke-width="0.4" font-size="7.4" textLength="6.8" lengthAdjust="spacingAndGlyphs">22</text>
<text x="221.8" y="24.8" fill="#333" stroke="#333" stroke-width="0.2" font-size="12.4">J</text>
<text x="125.3" y="38.9" fill="#8a8a8a" stroke="#8a8a8a" stroke-width="0.2" font-size="10.6" textLength="57" lengthAdjust="spacingAndGlyphs">Upper 300m</text>
<text x="125.3" y="49.8" fill="#4d92e3" stroke="#4d92e3" stroke-width="0.2" font-size="10.6" textLength="57" lengthAdjust="spacingAndGlyphs">Upper 700m</text>
<text x="125.3" y="60.8" fill="#9530d0" stroke="#9530d0" stroke-width="0.2" font-size="10.6" textLength="53.5" lengthAdjust="spacingAndGlyphs">Total Depth</text>
<text x="370" y="291.3" fill="#e2553c" stroke="#e2553c" stroke-width="0.3" font-size="8.6" textLength="11" lengthAdjust="spacingAndGlyphs">0.4</text>
<text x="387.5" y="291.3" fill="#e2553c" stroke="#e2553c" stroke-width="0.3" font-size="8.6" textLength="11" lengthAdjust="spacingAndGlyphs">0.5</text>
<text x="405" y="291.3" fill="#e2553c" stroke="#e2553c" stroke-width="0.3" font-size="8.6" textLength="11" lengthAdjust="spacingAndGlyphs">0.7</text>
<text x="423.7" y="291.3" fill="#e2553c" stroke="#e2553c" stroke-width="0.3" font-size="8.6" textLength="10" lengthAdjust="spacingAndGlyphs">1.0</text>
<text x="437" y="291.3" fill="#e2553c" stroke="#e2553c" stroke-width="0.3" font-size="8.6" textLength="8.5" lengthAdjust="spacingAndGlyphs">W</text>
<text x="447" y="291.3" fill="#e2553c" stroke="#e2553c" stroke-width="0.3" font-size="8.6" textLength="8" lengthAdjust="spacingAndGlyphs">m</text>
<text x="455.5" y="286.5" fill="#e2553c" font-size="5.2">-2</text>
<text x="437.5" y="302.3" fill="#e35a48" stroke="#e35a48" stroke-width="0.25" font-size="8.7" textLength="23.5" lengthAdjust="spacingAndGlyphs">Global</text>
<text x="240" y="338" fill="#555" font-size="11.2" text-anchor="middle">click to enlarge</text>
</svg>
</body></html>
